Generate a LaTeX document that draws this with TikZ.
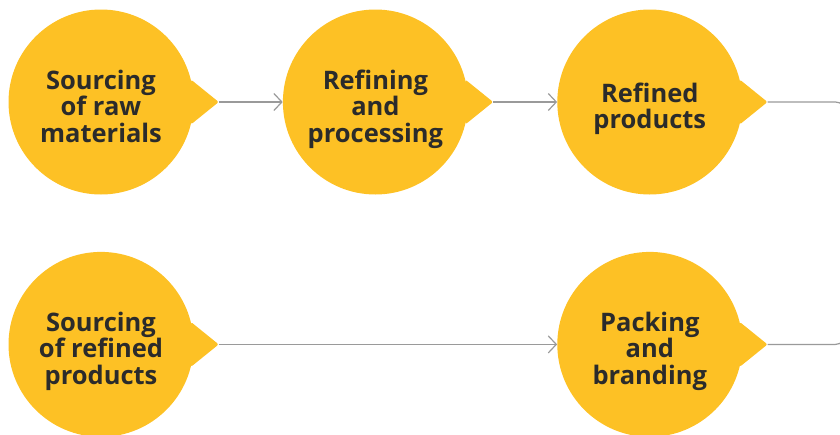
\documentclass[tikz,border=0pt]{standalone}
\usepackage{fontspec}
\setmainfont{Open Sans}
\usetikzlibrary{positioning,arrows.meta}
\definecolor{stageyellow}{HTML}{FDC125}
\definecolor{stagetext}{HTML}{2B2B2B}
\definecolor{linkgray}{HTML}{9A9A9A}
\begin{document}
\begin{tikzpicture}[x=1pt,y=1pt,
  node distance = 89pt and 89pt,
  stage/.style = {circle,fill=stageyellow,minimum size=185pt,inner sep=0pt,
  align=center,text=stagetext,font=\fontsize{25.5}{26.5}\selectfont\bfseries,
  text height=#1,text depth=6pt},
  stage/.default = 86pt,
  pointer/.style = {fill=stageyellow,rounded corners=2pt},
  link/.style = {draw=linkgray,line width=1.2pt,
  -{Straight Barb[length=8pt,width=17pt,line width=1.2pt]}}]
 \useasboundingbox (0,0) rectangle (840,-434);
 \node[stage] (s1) at (101,-102) {Sourcing\\ of raw\\ materials};
 \node[stage,right=of s1] (s2) {Refining\\ and\\ processing};
 \node[stage=59pt,right=of s2] (s3) {Refined\\ products};
 \node[stage,below=57pt of s1] (s4) {Sourcing\\ of refined\\ products};
 \node[stage,below=57pt of s3] (s5) {Packing\\ and\\ branding};
 % pointers on the right of each circle
 \foreach \n in {1,...,5}{
  \coordinate (t\n) at ([xshift=25pt]s\n.east);
  \fill[pointer] (s\n.14) -- (t\n) -- (s\n.-14) -- cycle;
 }
 \draw[link] (t1) -- (s2);
 \draw[link] (t2) -- (s3);
 \draw[link] (t4) -- (s5);
 %\draw[link] (t3) -- (s5);
 \coordinate (turn) at ([xshift=78pt]t5);
 \draw[draw=linkgray,line width=1.2pt,rounded corners=10pt] (t3) -| (turn) -- (t5);
\end{tikzpicture}
\end{document}
